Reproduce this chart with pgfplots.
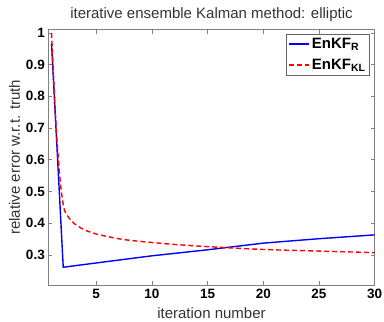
\documentclass[border=0pt]{standalone}
\usepackage{pgfplots}
\pgfplotsset{compat=1.18}
\usepackage{fontspec}
\setmainfont{Liberation Sans}
\begin{document}
\begin{tikzpicture}[x=1pt,y=1pt]
\useasboundingbox (0,0) rectangle (384,322);
\begin{axis}[
  at={(48.3pt,37pt)}, anchor=south west,
  scale only axis, width=326.4pt, height=255.3pt,
  xmin=0.71, xmax=30, ymin=0.205, ymax=1.01,
  xtick={5,10,15,20,25,30},
  ytick={0.3,0.4,0.5,0.6,0.7,0.8,0.9,1},
  yticklabels={0.3,0.4,0.5,0.6,0.7,0.8,0.9,1},
  /pgf/number format/assume math mode=true,
  tick label style={font=\bfseries\fontsize{13.5}{14}\selectfont, text=black},
  xticklabel style={yshift=-1pt},
  axis line style={draw=black!50, line width=0.8pt},
  tick style={draw=black!50, line width=0.6pt},
  tick align=inside, major tick length=4pt,
  xtick pos=both, ytick pos=both,
  title={iterative ensemble Kalman method: elliptic},
  title style={font=\fontsize{15}{16}\selectfont, text=black!80, yshift=-1pt},
  xlabel={iteration number},
  ylabel={relative error w.r.t. truth},
  label style={font=\fontsize{15}{16}\selectfont, text=black!80},
  xlabel style={anchor=center, at={(0.5,0)}, yshift=-28pt},
  ylabel style={yshift=-1pt},
  legend style={at={(0.985,0.983)}, anchor=north east, draw=black!60,
    font=\bfseries\fontsize{15}{17}\selectfont, row sep=5pt, inner sep=2pt},
  legend cell align=left,
  legend image code/.code={\draw[#1, line width=1.4pt] (0pt,0pt) -- (20pt,0pt);},
]
\addplot[blue, line width=1.4pt] coordinates {
(1,0.968) (2.05,0.261) (6,0.279) (10,0.297) (15,0.316) (20,0.337) (25,0.351) (30,0.363)
};
\addlegendentry{EnKF$_{\mathbf{R}}$}
\addplot[red, line width=1.4pt, dash pattern=on 5pt off 3pt, smooth] coordinates {
(1,1.0) (1.4,0.71) (1.76,0.54) (2,0.47) (2.2,0.437) (2.6,0.415) (3,0.40) (3.4,0.39) (4,0.378) (5,0.366) (6,0.358) (7,0.351) (8,0.346) (10,0.339) (12,0.333) (15,0.326) (20,0.317) (25,0.312) (30,0.307)
};
\addlegendentry{EnKF$_{\mathbf{KL}}$}
\end{axis}
\end{tikzpicture}
\end{document}
